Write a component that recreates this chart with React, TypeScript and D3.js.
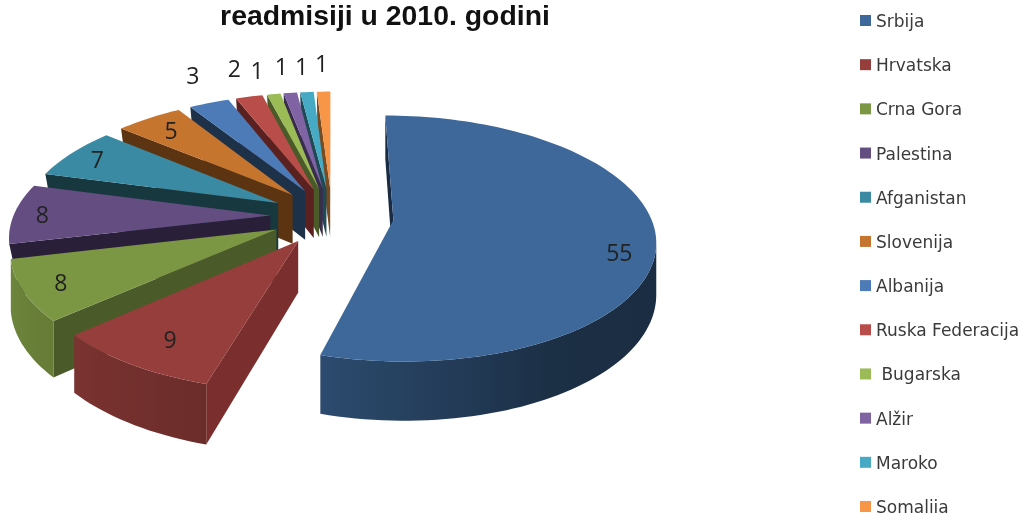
import { useEffect, useRef } from 'react'
import * as d3 from 'd3'

const titleText = 'readmisiji u 2010. godini'
const categories = ['Srbija', 'Hrvatska', 'Crna Gora', 'Palestina', 'Afganistan', 'Slovenija', 'Albanija', 'Ruska Federacija', ' Bugarska', 'Alžir', 'Maroko', 'Somaliia']
const values = [55, 9, 8, 8, 7, 5, 3, 2, 1, 1, 1, 1]
const topColors = ['#3d6899', '#953e3b', '#7c9743', '#644d81', '#3a8aa3', '#c6752f', '#4c7bb8', '#b94d4a', '#9abb56', '#7f63a3', '#46aac4', '#f79646']
const wallColors = ['#1a2c44', '#7a2f2e', '#4a5a28', '#2a1f38', '#17383f', '#5c3412', '#1d3149', '#5a2120', '#4a5a28', '#3a2c4c', '#1f4a55', '#7a4a20']
// where each value label sits along its slice, in radii from the slice tip
const labelRadius = [0.87, 0.81, 0.86, 0.89, 0.87, 0.83, 1.34, 1.36, 1.31, 1.33, 1.32, 1.36]
const labelTurn = [9, -1, 0, 0, 0, 0, 2.5, 1, -1, 0, 0, 0]

export default function App() {
  const svgRef = useRef(null)

  useEffect(() => {
    if (!svgRef.current) return

    const width = 1022
    const height = 515

    const svg = d3.select(svgRef.current)
    svg.selectAll('*').remove()
    svg.attr('width', width).attr('height', height)

    const defs = svg.append('defs')

    // Perspective set up for the tilted pie
    const originX = 332
    const originY = 216
    const radiusX = 257
    const radiusY = 119
    const depth = 50
    const perspective = 0.15
    const explode = 0.24

    const project = (x, z, drop = 0) => {
      const s = 1 / (1 - perspective * z)
      return [originX + radiusX * x * s, originY + (radiusY * z + drop) * s]
    }

    const slices = d3.pie().sort(null).value(d => d)(values)
    const line = d3.line()

    // shade of the outer wall, by angle round the pie
    const arcShade = d3.scaleLinear()
      .domain([Math.PI / 2, (150 * Math.PI) / 180, (196 * Math.PI) / 180, (228 * Math.PI) / 180, (260 * Math.PI) / 180])
      .range([0.42, 0.45, 0.72, 0.82, 0.9])
      .clamp(true)

    const pieGroup = svg.append('g')

    // Painted from the back slice round to the front
    d3.range(slices.length - 1, -1, -1).forEach(i => {
      const slice = slices[i]
      const mid = (slice.startAngle + slice.endAngle) / 2
      const tip = { x: explode * Math.sin(mid), z: -explode * Math.cos(mid) }

      const steps = Math.max(2, Math.ceil((slice.endAngle - slice.startAngle) / 0.03))
      const angles = d3.range(steps + 1).map(k => slice.startAngle + ((slice.endAngle - slice.startAngle) * k) / steps)
      const rim = angles.map(a => ({ x: tip.x + Math.sin(a), z: tip.z - Math.cos(a), a }))

      const top = d => project(d.x, d.z)
      const bottom = d => project(d.x, d.z, depth)
      const faces = (p, q) => d3.polygonArea([top(p), top(q), bottom(q), bottom(p)]) > 0

      const seen = rim.filter((p, k) => (k < rim.length - 1 && faces(p, rim[k + 1])) || (k > 0 && faces(rim[k - 1], p)))
      const xs = seen.map(d => top(d)[0])
      const [x0, x1] = seen.length ? d3.extent(xs) : [0, 0]
      const hasRimWall = x1 - x0 > 5

      // the two straight walls; without a rim wall the outer foot is pulled in a little
      const pullIn = (d, to) => (hasRimWall ? d : { x: d.x + (to.x - d.x) * 0.04, z: d.z + (to.z - d.z) * 0.04 })
      const radial = [[tip, rim[0], tip, pullIn(rim[0], tip)], [rim[rim.length - 1], tip, pullIn(rim[rim.length - 1], tip), tip]]
      radial.forEach(([p, q, pFoot, qFoot]) => {
        if (!faces(p, q)) return
        pieGroup.append('path')
          .attr('d', line([top(p), top(q), bottom(qFoot), bottom(pFoot)]) + 'Z')
          .attr('fill', wallColors[i])
      })

      // the outer wall, one path with a sideways gradient
      if (hasRimWall) {
        const base = d3.rgb(topColors[i])
        const gradient = defs.append('linearGradient')
          .attr('id', `wall-${i}`)
          .attr('gradientUnits', 'userSpaceOnUse')
          .attr('x1', x0)
          .attr('x2', x1)
          .attr('y1', 0)
          .attr('y2', 0)
        d3.range(seen.length).sort((a, b) => xs[a] - xs[b]).forEach(k => {
          const f = arcShade(seen[k].a)
          gradient.append('stop')
            .attr('offset', (xs[k] - x0) / (x1 - x0))
            .attr('stop-color', d3.rgb(base.r * f, base.g * f, base.b * f).formatHex())
        })
        pieGroup.append('path')
          .attr('d', line([...seen.map(top), ...seen.slice().reverse().map(bottom)]) + 'Z')
          .attr('fill', `url(#wall-${i})`)
      }

      pieGroup.append('path')
        .attr('d', line([tip, ...rim].map(top)) + 'Z')
        .attr('fill', topColors[i])
    })

    // Value labels
    slices.forEach((slice, i) => {
      const mid = (slice.startAngle + slice.endAngle) / 2
      const turned = mid + (labelTurn[i] * Math.PI) / 180
      const [x, y] = project(
        explode * Math.sin(mid) + labelRadius[i] * Math.sin(turned),
        -explode * Math.cos(mid) - labelRadius[i] * Math.cos(turned)
      )
      svg.append('text')
        .attr('x', x)
        .attr('y', y)
        .attr('text-anchor', 'middle')
        .attr('dominant-baseline', 'central')
        .style('font-family', '"Open Sans"')
        .style('font-size', '23px')
        .style('fill', '#222')
        .text(slice.value)
    })

    // Title
    svg.append('text')
      .attr('x', 385)
      .attr('y', 25)
      .attr('text-anchor', 'middle')
      .style('font-family', '"Liberation Sans"')
      .style('font-size', '28.4px')
      .style('font-weight', 'bold')
      .style('fill', '#111')
      .text(titleText)

    // Legend
    const legendY = d3.scalePoint().domain(categories).range([21, 507])
    const legend = svg.selectAll('.legend')
      .data(categories)
      .enter()
      .append('g')
      .attr('class', 'legend')
      .attr('transform', d => `translate(860, ${legendY(d)})`)

    legend.append('rect')
      .attr('x', 0)
      .attr('y', -6)
      .attr('width', 11)
      .attr('height', 11)
      .attr('fill', (d, i) => topColors[i])

    legend.append('text')
      .attr('x', 16)
      .attr('dominant-baseline', 'central')
      .style('font-family', '"DejaVu Sans"')
      .style('font-size', '17px')
      .style('white-space', 'pre')
      .style('fill', '#3a3a3a')
      .text(d => d)
  }, [])

  return <svg ref={svgRef} style={{ position: 'absolute', left: 0, top: 0, filter: 'blur(0.4px)' }}></svg>
}
